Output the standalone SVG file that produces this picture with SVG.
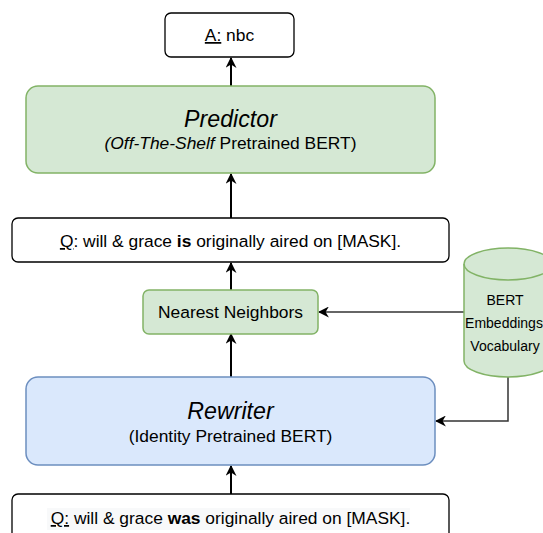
<svg xmlns="http://www.w3.org/2000/svg" width="543" height="533" viewBox="0 0 543 533">
  <defs>
    <marker id="arr" viewBox="0 0 10 10" refX="9" refY="5" markerWidth="11" markerHeight="11" markerUnits="userSpaceOnUse" orient="auto">
      <path d="M0,0 L10,5 L0,10 L3,5 z" fill="#000"/>
    </marker>
    <style>
      text { font-family: "Liberation Sans", Arial, sans-serif; fill: #000; }
      .t { font-size: 17.4px; text-anchor: middle; }
      .title { font-size: 23.2px; font-style: italic; text-anchor: middle; }
      .small { font-size: 14px; text-anchor: middle; }
      .plain { fill: #fff; stroke: #000; stroke-width: 1.3; }
      .green { fill: #d5e8d4; stroke: #82b366; stroke-width: 1.5; }
      .blue { fill: #dae8fc; stroke: #6c8ebf; stroke-width: 1.5; }
      .conn { fill: none; stroke: #000; stroke-width: 2; marker-end: url(#arr); }
      .conn2 { fill: none; stroke: #333; stroke-width: 1.5; marker-end: url(#arr); }
    </style>
  </defs>

  <g id="connectors">
    <path class="conn" d="M231,86 L231,58"/>
    <path class="conn" d="M231,218 L231,174"/>
    <path class="conn" d="M231,290 L231,263"/>
    <path class="conn" d="M231,377 L231,334"/>
    <path class="conn" d="M231,494 L231,466"/>
    <path class="conn2" d="M464,312 L319,312"/>
    <path class="conn2" d="M508,377 L508,421 L436,421"/>
  </g>

  <g id="answer">
    <rect class="plain" x="165" y="13" width="129" height="44" rx="6"/>
    <text class="t" x="229.5" y="41"><tspan text-decoration="underline">A:</tspan> nbc</text>
  </g>

  <g id="predictor">
    <rect class="green" x="26" y="86" width="409" height="87" rx="12"/>
    <text class="title" x="230.5" y="127">Predictor</text>
    <text class="t" x="230.5" y="149"><tspan font-style="italic">(Off-The-Shelf</tspan> Pretrained BERT)</text>
  </g>

  <g id="query-rewritten">
    <rect class="plain" x="12" y="218" width="437" height="44" rx="6"/>
    <text class="t" x="230.5" y="247"><tspan text-decoration="underline">Q</tspan>: will &amp; grace <tspan font-weight="bold">is</tspan> originally aired on [MASK].</text>
  </g>

  <g id="nearest-neighbors">
    <rect class="green" x="143" y="290" width="175" height="44" rx="6"/>
    <text class="t" x="230.5" y="318">Nearest Neighbors</text>
  </g>

  <g id="bert-vocab">
    <path class="green" d="M464,264 A44,16 0 0 1 552,264 L552,361 A44,16 0 0 1 464,361 Z"/>
    <path d="M464,264 A44,16 0 0 0 552,264" fill="none" stroke="#82b366" stroke-width="1.5"/>
    <text class="small" x="505" y="305">BERT</text>
    <text class="small" x="504" y="328">Embeddings</text>
    <text class="small" x="505" y="351">Vocabulary</text>
  </g>

  <g id="rewriter">
    <rect class="blue" x="26" y="377" width="409" height="88" rx="12"/>
    <text class="title" x="230.5" y="419">Rewriter</text>
    <text class="t" x="230.5" y="442">(Identity Pretrained BERT)</text>
  </g>

  <g id="query-original">
    <rect class="plain" x="12" y="494" width="437" height="50" rx="6"/>
    <rect x="47" y="508" width="363" height="22" fill="#f8f9fa"/>
    <text class="t" x="230.5" y="524"><tspan text-decoration="underline">Q:</tspan> will &amp; grace <tspan font-weight="bold">was</tspan> originally aired on [MASK].</text>
  </g>
</svg>
